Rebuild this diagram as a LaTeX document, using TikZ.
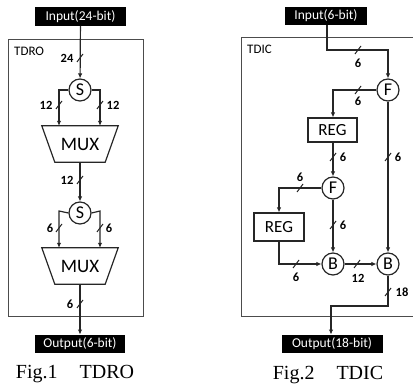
\documentclass[tikz,border=0pt]{standalone}
\usepackage{fontspec}
\setmainfont{Liberation Serif}
\newfontfamily\diag{Carlito}
\usetikzlibrary{arrows.meta,calc}

\tikzset{
  wire/.style={line width=1.2pt, draw=black!85},
  arr/.style={wire, -{Latex[length=5pt,width=4.5pt]}},
  frame/.style={line width=0.9pt, draw=black!70},
  io/.style={fill=black, text=white, font=\diag\fontsize{13.5}{14}\selectfont,
             inner sep=0pt, minimum height=18.5pt},
  op/.style={circle, draw=black!85, line width=1.2pt, minimum size=22pt, inner sep=0pt,
             font=\diag\fontsize{18}{18}\selectfont},
  regbox/.style={draw=black!85, line width=1.2pt, inner sep=0pt,
                 font=\diag\fontsize{17}{18}\selectfont},
  muxbox/.style={inner sep=0pt, minimum width=76pt, minimum height=36pt,
                 font=\diag\fontsize{19}{20}\selectfont},
  width lbl/.style={font=\diag\bfseries\fontsize{12.5}{13}\selectfont, inner sep=0pt},
  blocklbl/.style={font=\diag\fontsize{13}{14}\selectfont, inner sep=0pt, anchor=west},
  caption/.style={font=\fontsize{20}{22}\selectfont, inner sep=0pt},
}
% slash marking a bus width on a wire
\newcommand{\buswidth}[1]{\draw[wire, line width=1pt] ($(#1)+(-3,4)$) -- ($(#1)+(3,-4)$);}

\begin{document}
\begin{tikzpicture}[x=1pt,y=-1pt]
\useasboundingbox (0,0) rectangle (413,390);

% ---------------- TDRO ----------------
\draw[frame] (8,39) rectangle (143,316);
\node[blocklbl] (tdrolbl) at (14,51) {TDRO};

\node[io, minimum width=91pt] (in1) at (80.5,16.5) {Input(24-bit)};
\node[op] (s1) at (80,90) {S};
\node[muxbox] (mux1) at (80,144) {MUX};
\draw[wire] (mux1.north west) -- (mux1.north east) -- ([xshift=-13pt]mux1.south east)
  -- ([xshift=13pt]mux1.south west) -- cycle;
\node[op] (s2) at (80,213) {S};
\node[muxbox] (mux2) at (80,266) {MUX};
\draw[wire] (mux2.north west) -- (mux2.north east) -- ([xshift=-13pt]mux2.south east)
  -- ([xshift=13pt]mux2.south west) -- cycle;
\node[io, minimum width=90pt] (out1) at (80,344) {Output(6-bit)};

\coordinate (s1l) at (59,90);  \coordinate (s1r) at (100,90);
\coordinate (s2l) at (59,211); \coordinate (s2r) at (100,211);

\draw[arr] (in1) -- (s1);
\draw[arr] (s1.west) -- (s1l) -- (s1l |- mux1.north);
\draw[arr] (s1.east) -- (s1r) -- (s1r |- mux1.north);
\draw[arr] (mux1.south) -- (s2.north);
\draw[arr] (s2.west) -- (s2l) -- (s2l |- mux2.north);
\draw[arr] (s2.east) -- (s2r) -- (s2r |- mux2.north);
\draw[arr] (mux2.south) -- (out1.north);

\buswidth{80,58}   \node[width lbl] (w24) at (67,58) {24};
\buswidth{59,105}  \node[width lbl] (w12a) at (46,105) {12};
\buswidth{100,105} \node[width lbl] (w12b) at (113,105) {12};
\buswidth{80,180}  \node[width lbl] (w12c) at (67,180) {12};
\buswidth{59,228}  \node[width lbl] (w6a) at (50,228) {6};
\buswidth{100,228} \node[width lbl] (w6b) at (109,228) {6};
\buswidth{80,304}  \node[width lbl] (w6c) at (70,304) {6};

\node[caption] (cap1) at (75,374) {Fig.1\hspace{1.1em}TDRO};

% ---------------- TDIC ----------------
\draw[frame] (420,37) -- (241,37) -- (241,316) -- (420,316);
\node[blocklbl] (tdiclbl) at (247,49) {TDIC};

\node[io, minimum width=82pt] (in2) at (326,16) {Input(6-bit)};
\node[op] (f1) at (388,90) {F};
\node[regbox, minimum width=49pt, minimum height=24pt] (reg1) at (332.5,130) {REG};
\node[op] (f2) at (333,188) {F};
\node[regbox, minimum width=50pt, minimum height=28pt] (reg2) at (279,227) {REG};
\node[op] (b1) at (333,264) {B};
\node[op] (b2) at (388,264) {B};
\node[io, minimum width=101pt] (out2) at (332,344) {Output(18-bit)};

\coordinate (inbend) at (327,50);
\coordinate (f1bend) at (333,90);
\coordinate (f2bend) at (279,188);
\coordinate (r2bend) at (279,264);
\coordinate (b2bend) at (388,306);
\coordinate (outbend) at (331,306);

\draw[arr] (in2.south -| inbend) -- (inbend) -- (inbend -| f1) -- (f1.north);
\draw[arr] (f1.west) -- (f1bend) -- (f1bend |- reg1.north);
\draw[arr] (reg1.south -| f2) -- (f2.north);
\draw[arr] (f1.south) -- (b2.north);
\draw[arr] (f2.west) -- (f2bend) -- (f2bend |- reg2.north);
\draw[arr] (reg2.south -| r2bend) -- (r2bend) -- (b1.west);
\draw[arr] (f2.south) -- (b1.north);
\draw[arr] (b1.east) -- (b2.west);
\draw[arr] (b2.south) -- (b2bend) -- (outbend) -- (outbend |- out2.north);

\buswidth{358,50}  \node[width lbl] (v6a) at (358,63) {6};
\buswidth{358,90}  \node[width lbl] (v6b) at (358,101) {6};
\buswidth{333,157} \node[width lbl] (v6c) at (343,157) {6};
\buswidth{388,157} \node[width lbl] (v6d) at (398,157) {6};
\buswidth{300,188} \node[width lbl] (v6e) at (300,177) {6};
\buswidth{333,225} \node[width lbl] (v6f) at (343,225) {6};
\buswidth{296,264} \node[width lbl] (v6g) at (296,277) {6};
\buswidth{357,264} \node[width lbl] (v12) at (358,278) {12};
\buswidth{388,292} \node[width lbl] (v18) at (402,292) {18};

\node[caption] (cap2) at (328,375) {Fig.2\hspace{1.1em}TDIC};
\end{tikzpicture}
\end{document}
